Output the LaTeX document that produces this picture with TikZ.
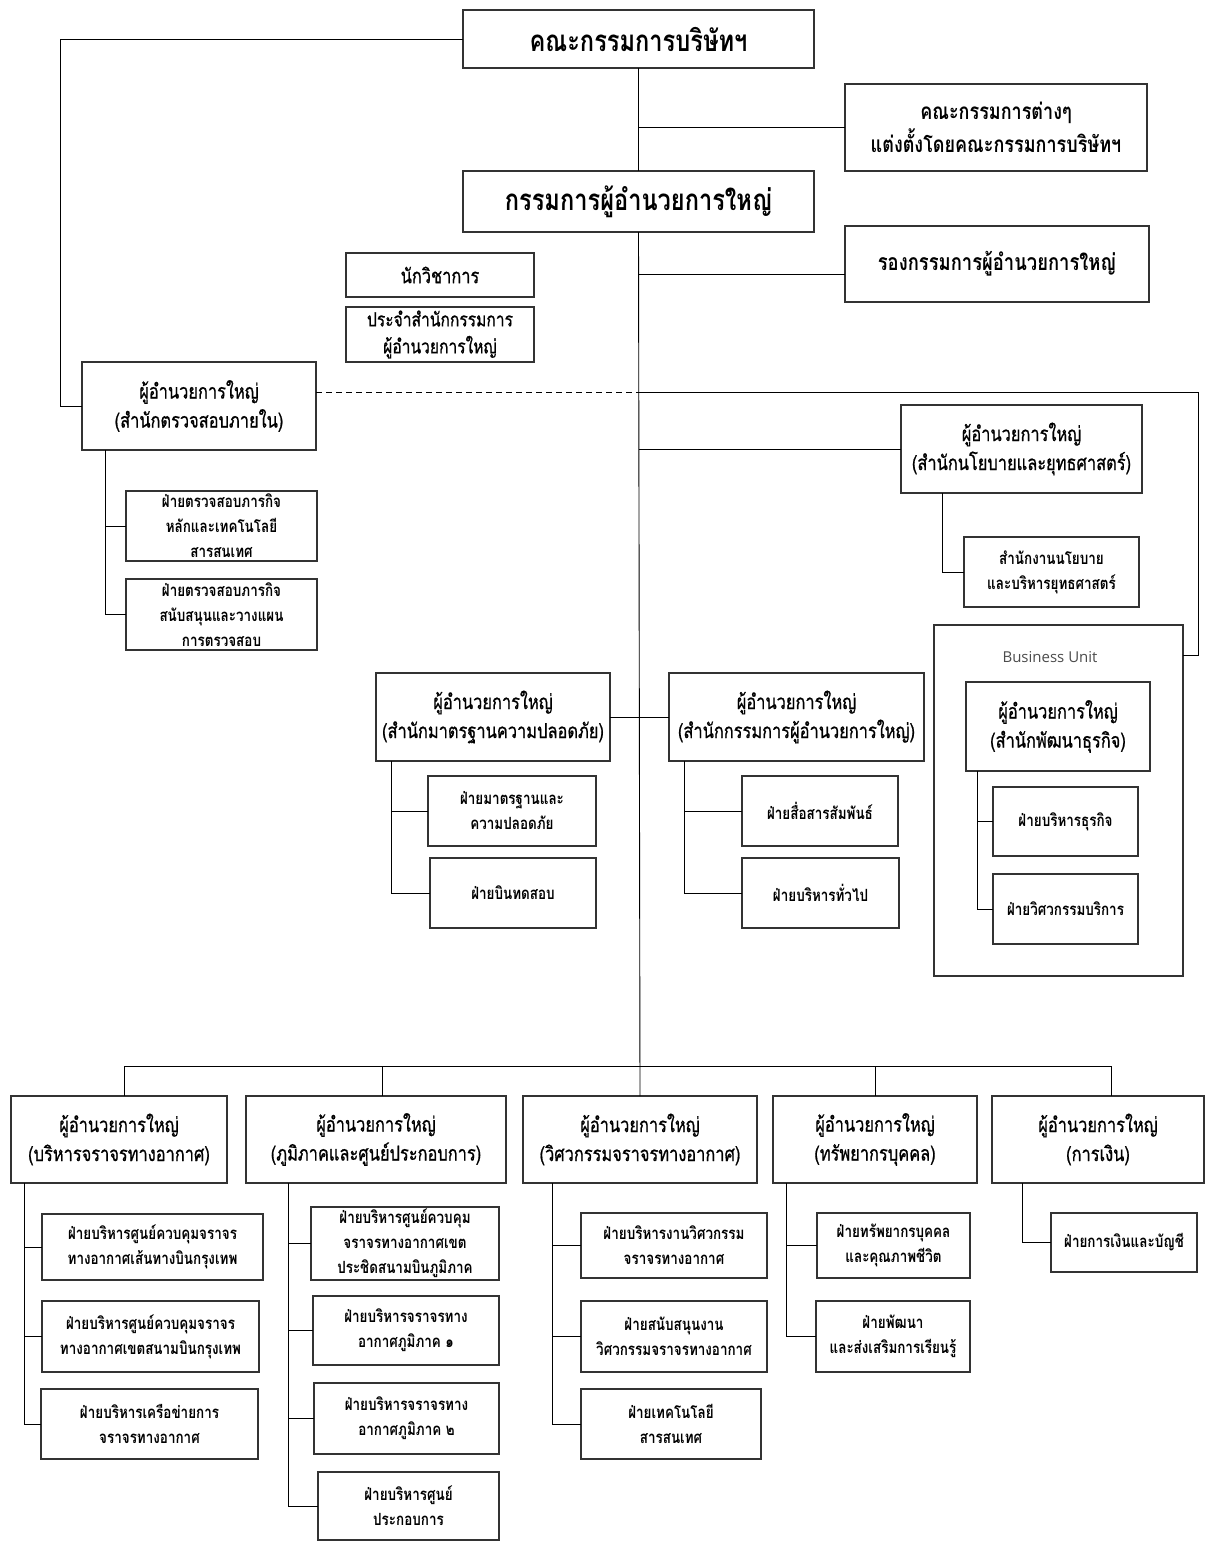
\documentclass[tikz,border=0pt]{standalone}
\usepackage{fontspec}
\newfontfamily\thai[Script=Thai,FakeStretch=0.8]{Loma}
\newfontfamily\thaim[Script=Thai,FakeStretch=0.8,FakeBold=0.8]{Loma}
\newfontfamily\latn{Open Sans}
\usetikzlibrary{calc}
\newcommand\BX[7][]{%
  \pgfmathsetmacro\bxw{#4-#2}\pgfmathsetmacro\bxh{#5-#3}%
  \pgfmathsetmacro\bxcx{(#2+#4)/2}\pgfmathsetmacro\bxcy{(#3+#5)/2}%
  \node[box,#1,minimum width=\bxw pt,minimum height=\bxh pt] (#6) at (\bxcx,\bxcy) {#7};}
\begin{document}
\begin{tikzpicture}[x=1pt,y=-1pt,
  box/.style={draw=black!80,line width=1.1pt,fill=white,inner sep=0pt,outer sep=0pt,align=center},
  toptxt/.style={font=\thai\bfseries\fontsize{29.5}{32}\selectfont},
  hd/.style={font=\thaim\fontsize{20.5}{29}\selectfont},
  mid/.style={font=\thai\bfseries\fontsize{22.5}{33}\selectfont},
  sm/.style={font=\thai\bfseries\fontsize{16.8}{25}\selectfont},
  ln/.style={line width=0.9pt,black}]
\fill[white] (0,0) rectangle (1205,1542);
\useasboundingbox (0,0) rectangle (1205,1542);

% top
\BX[toptxt]{463}{10}{814}{68}{board}{คณะกรรมการบริษัทฯ}
\BX[toptxt]{463}{171}{814}{232}{ceo}{กรรมการผู้อำนวยการใหญ่}
\BX[mid]{845}{84}{1147}{171}{comm}{คณะกรรมการต่างๆ\\แต่งตั้งโดยคณะกรรมการบริษัทฯ}
\BX[mid,font=\thai\bfseries\fontsize{23}{33}\selectfont]{845}{226}{1149}{302}{dep}{รองกรรมการผู้อำนวยการใหญ่}
\BX[hd]{346}{253}{534}{297}{acad}{นักวิชาการ}
\BX[hd,font=\thaim\fontsize{19.5}{27}\selectfont]{346}{307}{534}{362}{staff}{ประจำสำนักกรรมการ\\ผู้อำนวยการใหญ่}

% audit
\BX[hd]{82}{362}{316}{450}{audit}{ผู้อำนวยการใหญ่\\(สำนักตรวจสอบภายใน)}
\BX[sm]{126}{491}{317}{561}{aud1}{ฝ่ายตรวจสอบภารกิจ\\หลักและเทคโนโลยี\\สารสนเทศ}
\BX[sm]{126}{579}{317}{650}{aud2}{ฝ่ายตรวจสอบภารกิจ\\สนับสนุนและวางแผน\\การตรวจสอบ}

% policy
\BX[hd]{901}{405}{1142}{493}{pol}{ผู้อำนวยการใหญ่\\(สำนักนโยบายและยุทธศาสตร์)}
\BX[sm]{964}{537}{1139}{607}{pol1}{สำนักงานนโยบาย\\และบริหารยุทธศาสตร์}

% business unit
\BX{934}{625}{1183}{976}{bu}{}
\node[font=\latn\fontsize{15}{17}\selectfont,text=black!70] (butxt) at (1050,657) {Business Unit};
\BX[hd]{966}{682}{1150}{771}{bd}{ผู้อำนวยการใหญ่\\(สำนักพัฒนาธุรกิจ)}
\BX[sm]{993}{787}{1138}{856}{bd1}{ฝ่ายบริหารธุรกิจ}
\BX[sm]{993}{874}{1138}{944}{bd2}{ฝ่ายวิศวกรรมบริการ}

% safety & office
\BX[hd]{376}{673}{610}{761}{saf}{ผู้อำนวยการใหญ่\\(สำนักมาตรฐานความปลอดภัย)}
\BX[sm]{428}{776}{596}{846}{saf1}{ฝ่ายมาตรฐานและ\\ความปลอดภัย}
\BX[sm]{430}{858}{596}{928}{saf2}{ฝ่ายบินทดสอบ}
\BX[hd]{669}{673}{924}{761}{off}{ผู้อำนวยการใหญ่\\(สำนักกรรมการผู้อำนวยการใหญ่)}
\BX[sm]{742}{776}{898}{846}{off1}{ฝ่ายสื่อสารสัมพันธ์}
\BX[sm]{742}{858}{899}{928}{off2}{ฝ่ายบริหารทั่วไป}

% bottom row
\BX[hd]{11}{1096}{227}{1183}{b1}{ผู้อำนวยการใหญ่\\(บริหารจราจรทางอากาศ)}
\BX[hd]{246}{1096}{506}{1183}{b2}{ผู้อำนวยการใหญ่\\(ภูมิภาคและศูนย์ประกอบการ)}
\BX[hd]{523}{1096}{757}{1183}{b3}{ผู้อำนวยการใหญ่\\(วิศวกรรมจราจรทางอากาศ)}
\BX[hd]{773}{1096}{977}{1183}{b4}{ผู้อำนวยการใหญ่\\(ทรัพยากรบุคคล)}
\BX[hd]{992}{1096}{1204}{1183}{b5}{ผู้อำนวยการใหญ่\\(การเงิน)}

\BX[sm]{42}{1214}{263}{1280}{b1a}{ฝ่ายบริหารศูนย์ควบคุมจราจร\\ทางอากาศเส้นทางบินกรุงเทพ}
\BX[sm]{42}{1301}{259}{1372}{b1b}{ฝ่ายบริหารศูนย์ควบคุมจราจร\\ทางอากาศเขตสนามบินกรุงเทพ}
\BX[sm]{41}{1389}{258}{1459}{b1c}{ฝ่ายบริหารเครือข่ายการ\\จราจรทางอากาศ}

\BX[sm]{311}{1207}{499}{1280}{b2a}{ฝ่ายบริหารศูนย์ควบคุม\\จราจรทางอากาศเขต\\ประชิดสนามบินภูมิภาค}
\BX[sm]{313}{1296}{499}{1365}{b2b}{ฝ่ายบริหารจราจรทาง\\อากาศภูมิภาค ๑}
\BX[sm]{314}{1383}{499}{1454}{b2c}{ฝ่ายบริหารจราจรทาง\\อากาศภูมิภาค ๒}
\BX[sm]{318}{1472}{499}{1540}{b2d}{ฝ่ายบริหารศูนย์\\ประกอบการ}

\BX[sm]{581}{1213}{767}{1278}{b3a}{ฝ่ายบริหารงานวิศวกรรม\\จราจรทางอากาศ}
\BX[sm]{581}{1301}{767}{1372}{b3b}{ฝ่ายสนับสนุนงาน\\วิศวกรรมจราจรทางอากาศ}
\BX[sm]{581}{1389}{761}{1459}{b3c}{ฝ่ายเทคโนโลยี\\สารสนเทศ}

\BX[sm]{817}{1213}{970}{1278}{b4a}{ฝ่ายทรัพยากรบุคคล\\และคุณภาพชีวิต}
\BX[sm]{816}{1301}{970}{1372}{b4b}{ฝ่ายพัฒนา\\และส่งเสริมการเรียนรู้}

\BX[sm]{1051}{1213}{1197}{1272}{b5a}{ฝ่ายการเงินและบัญชี}

% ---- connectors ----
\coordinate (lft) at (60,0);
\coordinate (rgt) at (1198,0);
\coordinate (bar) at (0,1066);
\coordinate (c1) at (124,0);
\coordinate (c2) at (382,0);
\coordinate (c4) at (875,0);
\coordinate (c5) at (1111,0);

\draw[ln] (board.south) -- (ceo.north);
\draw[ln] (ceo.south) -- (b3.north);
\draw[ln] (comm.west) -- (comm.west -| ceo.north);
\draw[ln] ([yshift=-10pt]dep.west) -- ([yshift=-10pt]dep.west -| ceo.south);
\draw[ln] (board.west) -| (lft |- audit.west) -- (audit.west);
\coordinate (dS) at ([yshift=14pt]audit.east);
\draw[ln,dashed,dash pattern=on 6pt off 4pt] (dS) -- (dS -| ceo.south);
\draw[ln] (dS -| ceo.south) -- (dS -| rgt) |- ([yshift=145.5pt]bu.east);
\draw[ln] (pol.west) -- (pol.west -| ceo.south);
\draw[ln] (saf.east) -- (off.west);

\draw[ln] ([xshift=23pt]audit.south west) |- (aud1.west);
\draw[ln] ([xshift=23pt]audit.south west) |- (aud2.west);
\draw[ln] ([xshift=41pt]pol.south west) |- (pol1.west);
\draw[ln] ([xshift=11pt]bd.south west) |- (bd1.west);
\draw[ln] ([xshift=11pt]bd.south west) |- (bd2.west);
\draw[ln] ([xshift=15pt]saf.south west) |- (saf1.west);
\draw[ln] ([xshift=15pt]saf.south west) |- (saf2.west);
\draw[ln] ([xshift=15pt]off.south west) |- (off1.west);
\draw[ln] ([xshift=15pt]off.south west) |- (off2.west);

\draw[ln] (c1 |- b1.north) -- (c1 |- bar) -- (c5 |- bar) -- (c5 |- b5.north);
\draw[ln] (c2 |- bar) -- (c2 |- b2.north);
\draw[ln] (c4 |- bar) -- (c4 |- b4.north);

\draw[ln] ([xshift=13pt]b1.south west) |- (b1a.west);
\draw[ln] ([xshift=13pt]b1.south west) |- (b1b.west);
\draw[ln] ([xshift=13pt]b1.south west) |- (b1c.west);
\draw[ln] ([xshift=42pt]b2.south west) |- (b2a.west);
\draw[ln] ([xshift=42pt]b2.south west) |- (b2b.west);
\draw[ln] ([xshift=42pt]b2.south west) |- (b2c.west);
\draw[ln] ([xshift=42pt]b2.south west) |- (b2d.west);
\draw[ln] ([xshift=29pt]b3.south west) |- (b3a.west);
\draw[ln] ([xshift=29pt]b3.south west) |- (b3b.west);
\draw[ln] ([xshift=29pt]b3.south west) |- (b3c.west);
\draw[ln] ([xshift=13pt]b4.south west) |- (b4a.west);
\draw[ln] ([xshift=13pt]b4.south west) |- (b4b.west);
\draw[ln] ([xshift=30pt]b5.south west) |- (b5a.west);
\end{tikzpicture}
\end{document}
